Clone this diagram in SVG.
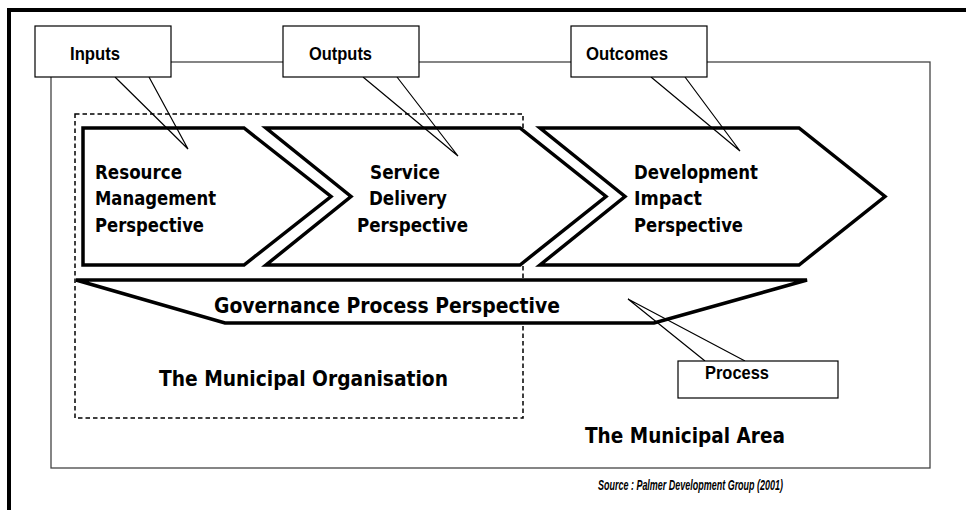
<svg xmlns="http://www.w3.org/2000/svg" width="966" height="510" viewBox="0 0 966 510">
<style>
.frame{fill:none;stroke:#000;stroke-width:4}
.area{fill:none;stroke:#444;stroke-width:1.3}
.org{fill:none;stroke:#000;stroke-width:1.5;stroke-dasharray:4.5 3}
.chev{fill:#fff;stroke:#000;stroke-width:3.5;stroke-linejoin:miter}
.band{fill:#fff;stroke:#000;stroke-width:3.5;stroke-linejoin:miter}
.box{fill:#fff;stroke:#000;stroke-width:1.2}
.tail{fill:none;stroke:#000;stroke-width:1.2}
.t{font-family:"DejaVu Sans",Verdana,sans-serif;font-weight:bold;fill:#000}
.c{font-size:19.5px}
.big{font-size:22px}
.n{font-family:"Liberation Sans Narrow","Liberation Sans",Arial,sans-serif;font-weight:bold;fill:#000;font-size:19px}
.src{font-family:"Liberation Sans Narrow","Liberation Sans",Arial,sans-serif;font-weight:bold;font-style:italic;fill:#000;font-size:15px}
</style>
<rect x="0" y="0" width="966" height="510" fill="#fff"/>
<g id="frame">
<path class="frame" d="M9 510 V10 H966"/>
</g>
<g id="municipal-area">
<rect class="area" x="51" y="62" width="879" height="406"/>
<text class="t big" x="585" y="443" textLength="200" lengthAdjust="spacingAndGlyphs">The Municipal Area</text>
</g>
<g id="municipal-organisation">
<rect class="org" x="75" y="114" width="448" height="304"/>
<text class="t big" x="159" y="386" textLength="289" lengthAdjust="spacingAndGlyphs">The Municipal Organisation</text>
</g>
<g id="resource-management">
<polygon class="chev" points="83,128 244,128 331,196.5 244,265 83,265"/>
<text class="t c" x="95" y="179" textLength="87" lengthAdjust="spacingAndGlyphs">Resource</text>
<text class="t c" x="95" y="205" textLength="121" lengthAdjust="spacingAndGlyphs">Management</text>
<text class="t c" x="95" y="231.5" textLength="109" lengthAdjust="spacingAndGlyphs">Perspective</text>
</g>
<g id="service-delivery">
<polygon class="chev" points="266,128 520,128 606,196.5 520,265 266,265 351,196.5"/>
<text class="t c" x="370" y="179" textLength="70" lengthAdjust="spacingAndGlyphs">Service</text>
<text class="t c" x="369" y="205" textLength="78" lengthAdjust="spacingAndGlyphs">Delivery</text>
<text class="t c" x="357" y="231.5" textLength="111" lengthAdjust="spacingAndGlyphs">Perspective</text>
</g>
<g id="development-impact">
<polygon class="chev" points="540,128 799,128 885,196.5 799,265 540,265 625,196.5"/>
<text class="t c" x="634" y="179" textLength="124" lengthAdjust="spacingAndGlyphs">Development</text>
<text class="t c" x="634" y="205" textLength="68" lengthAdjust="spacingAndGlyphs">Impact</text>
<text class="t c" x="634" y="231.5" textLength="109" lengthAdjust="spacingAndGlyphs">Perspective</text>
</g>
<g id="governance-process">
<polygon class="band" points="76,280 807,280 654,323 225,323"/>
<text class="t big" x="214" y="313" textLength="346" lengthAdjust="spacingAndGlyphs">Governance Process Perspective</text>
</g>
<g id="connectors">
<polyline class="tail" points="115,77 188,149 149,77"/>
<polyline class="tail" points="363,77 458,156 397,77"/>
<polyline class="tail" points="651,77 740,151 685,77"/>
<polyline class="tail" points="705,361 628,299 745,361"/>
</g>
<g id="inputs">
<rect class="box" x="35" y="26" width="136" height="51"/>
<text class="n" x="70" y="60" textLength="50" lengthAdjust="spacingAndGlyphs">Inputs</text>
</g>
<g id="outputs">
<rect class="box" x="283" y="26" width="136" height="51"/>
<text class="n" x="309" y="60" textLength="63" lengthAdjust="spacingAndGlyphs">Outputs</text>
</g>
<g id="outcomes">
<rect class="box" x="571" y="26" width="136" height="51"/>
<text class="n" x="586" y="60" textLength="82" lengthAdjust="spacingAndGlyphs">Outcomes</text>
</g>
<g id="process">
<rect class="box" x="678" y="361" width="160" height="37"/>
<text class="n" x="705" y="378.5" textLength="64" lengthAdjust="spacingAndGlyphs">Process</text>
</g>
<g id="source">
<text class="src" x="598" y="490" textLength="185" lengthAdjust="spacingAndGlyphs">Source : Palmer Development Group (2001)</text>
</g>
</svg>
